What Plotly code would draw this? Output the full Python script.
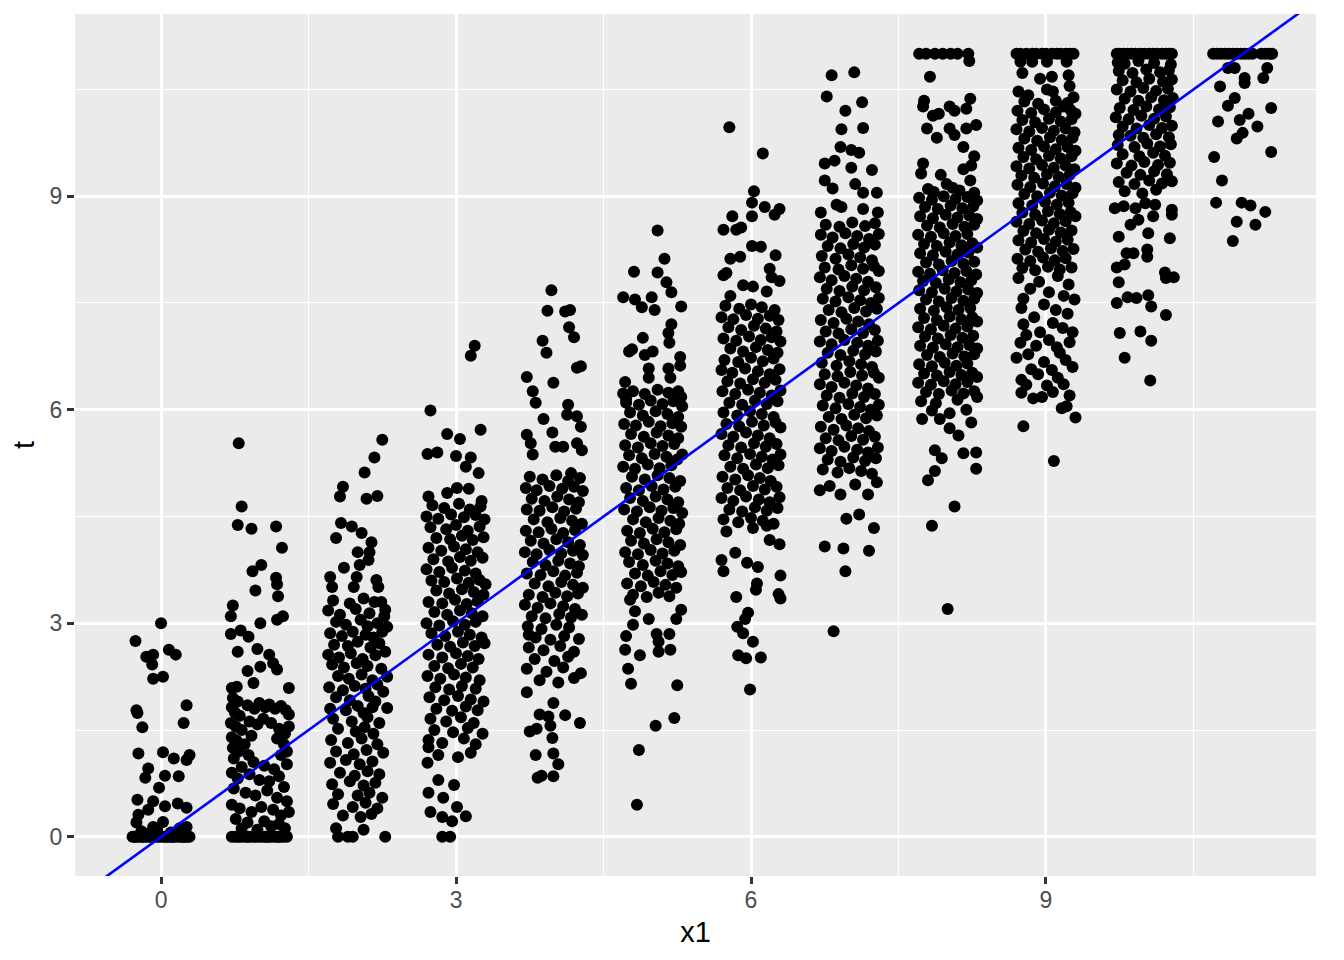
import plotly.graph_objects as go

# jittered points, one list per x1 value: (jitter offset, t)
col_0 = [
    (-0.29, 0), (-0.26, 0), (-0.24, 0), (-0.21, 0), (-0.19, 0), (-0.16, 0), (-0.13, 0), (-0.11, 0),
    (-0.08, 0), (-0.06, 0), (-0.03, 0), (-0.01, 0), (0.02, 0), (0.04, 0), (0.07, 0), (0.09, 0),
    (0.12, 0), (0.14, 0), (0.17, 0), (0.2, 0), (0.22, 0), (0.25, 0), (0.27, 0), (0.29, 0),
    (-0.18, 0), (0.05, 0), (0.11, 0), (-0.27, 0), (0.23, 0),
    (0.0, 3.0), (-0.26, 2.75), (-0.15, 2.53), (-0.08, 2.56), (-0.09, 2.42), (0.08, 2.63), (0.15, 2.56),
    (-0.08, 2.22), (0.02, 2.25), (0.26, 1.85), (-0.25, 1.78), (-0.24, 1.74), (0.23, 1.6), (-0.19, 1.54),
    (-0.23, 1.17), (0.02, 1.19), (0.13, 1.1), (0.29, 1.15), (0.26, 1.08), (-0.13, 0.96), (-0.16, 0.83),
    (0.04, 0.86), (0.18, 0.85), (-0.02, 0.69), (-0.24, 0.52), (-0.08, 0.5), (0.04, 0.43), (0.17, 0.47),
    (0.26, 0.41), (-0.23, 0.31), (-0.13, 0.38), (-0.25, 0.2), (0.02, 0.21), (-0.08, 0.14), (0.26, 0.14),
    (-0.2, 0.08), (0.1, 0.06), (-0.04, 0.1), (0.19, 0.12), (-0.12, 0.05),
]
col_1 = [
    (-0.28, 0), (-0.25, 0), (-0.22, 0), (-0.2, 0), (-0.17, 0), (-0.14, 0), (-0.11, 0), (-0.08, 0),
    (-0.05, 0), (-0.03, 0), (0.0, 0), (0.03, 0), (0.06, 0), (0.09, 0), (0.11, 0), (0.14, 0),
    (0.17, 0), (0.2, 0), (0.22, 0), (0.25, 0), (0.28, 0), (-0.12, 0), (0.07, 0), (0.19, 0),
    (-0.21, 5.53), (-0.18, 4.64), (-0.22, 4.38), (-0.08, 4.33), (0.17, 4.36), (0.23, 4.06), (0.02, 3.82),
    (-0.07, 3.73), (0.17, 3.64), (0.18, 3.55), (0.19, 3.38), (-0.04, 3.46), (-0.27, 3.25), (-0.29, 3.1),
    (0.01, 3.0), (0.18, 3.05), (0.24, 3.1), (-0.29, 2.85), (-0.19, 2.9), (-0.11, 2.81), (-0.02, 2.64),
    (-0.22, 2.6), (0.1, 2.56), (0.14, 2.44), (0.18, 2.35), (0.01, 2.39), (-0.12, 2.33), (-0.06, 2.16),
    (-0.28, 2.09), (-0.23, 2.11), (0.3, 2.09),
    (-0.27, 1.95), (-0.22, 1.9), (-0.28, 1.82), (-0.25, 1.75), (-0.2, 1.7), (-0.12, 1.85), (-0.05, 1.8),
    (0.0, 1.88), (0.06, 1.82), (0.1, 1.86), (0.16, 1.8), (0.22, 1.84), (0.27, 1.78), (0.3, 1.72),
    (-0.29, 1.6), (-0.24, 1.55), (-0.18, 1.5), (-0.1, 1.62), (-0.02, 1.58), (0.04, 1.66), (0.12, 1.6),
    (0.2, 1.52), (0.26, 1.45), (0.3, 1.55), (-0.28, 1.4), (-0.23, 1.35), (-0.27, 1.25), (-0.21, 1.2),
    (-0.26, 1.1), (-0.15, 1.3), (-0.08, 1.42), (-0.11, 1.15), (0.18, 1.38), (0.25, 1.3), (0.28, 1.2),
    (0.22, 1.15), (-0.06, 1.05), (0.05, 1.0), (-0.18, 0.98), (0.15, 0.95), (0.28, 1.02), (-0.28, 0.9),
    (-0.22, 0.82), (-0.1, 0.88), (0.0, 0.8), (0.1, 0.78), (0.2, 0.85), (0.25, 0.7), (-0.26, 0.68),
    (-0.14, 0.62), (-0.04, 0.58), (0.08, 0.65), (0.18, 0.55), (0.28, 0.5), (-0.28, 0.45), (-0.2, 0.4),
    (-0.08, 0.35), (0.02, 0.42), (0.14, 0.38), (0.22, 0.3), (0.3, 0.35), (-0.24, 0.25), (-0.12, 0.2),
    (0.05, 0.22), (0.12, 0.15), (0.2, 0.18), (0.26, 0.12), (-0.18, 0.12), (-0.02, 0.1),
]
col_2 = [
    (0.25, 5.58), (0.17, 5.33), (0.07, 5.12), (-0.15, 4.92), (-0.18, 4.78), (0.09, 4.75), (0.2, 4.79),
    (-0.17, 4.41), (-0.06, 4.36), (-0.22, 4.2), (0.04, 4.27), (0.14, 4.14), (0.12, 4.0), (0.0, 4.0),
    (0.11, 3.89), (0.02, 3.82), (-0.14, 3.78), (-0.28, 3.65), (-0.26, 3.51), (-0.01, 3.65), (-0.04, 3.51),
    (0.19, 3.61), (0.21, 3.51), (0.24, 3.3), (0.28, 3.19), (0.3, 1.81),
    (-0.25, 3.32), (-0.08, 3.28), (0.06, 3.35), (0.17, 3.3),
    (-0.3, 3.18), (-0.18, 3.12), (-0.02, 3.2), (0.12, 3.14), (0.27, 3.1),
    (-0.22, 3.02), (-0.12, 2.98), (0.03, 3.05), (0.1, 2.96), (0.2, 3.0), (0.3, 2.95),
    (-0.28, 2.86), (-0.16, 2.82), (-0.05, 2.88), (0.08, 2.84), (0.16, 2.8), (0.25, 2.88),
    (-0.24, 2.7), (-0.1, 2.68), (0.0, 2.74), (0.13, 2.66), (0.22, 2.72),
    (-0.3, 2.56), (-0.19, 2.52), (-0.07, 2.58), (0.05, 2.5), (0.18, 2.55), (0.28, 2.6),
    (-0.26, 2.42), (-0.14, 2.38), (-0.01, 2.44), (0.1, 2.4), (0.24, 2.36),
    (-0.2, 2.26), (-0.09, 2.22), (0.04, 2.28), (0.15, 2.2), (0.3, 2.25),
    (-0.29, 2.1), (-0.15, 2.06), (-0.03, 2.12), (0.08, 2.08), (0.2, 2.14), (0.26, 2.04),
    (-0.22, 1.96), (-0.08, 1.92), (0.11, 1.98), (0.18, 1.9),
    (-0.28, 1.8), (-0.12, 1.78), (0.0, 1.84), (0.06, 1.74), (0.15, 1.82),
    (-0.25, 1.66), (-0.06, 1.62), (0.1, 1.68), (0.22, 1.6),
    (-0.2, 1.52), (-0.02, 1.48), (0.07, 1.54), (0.16, 1.45),
    (-0.27, 1.36), (-0.1, 1.32), (0.04, 1.38), (0.2, 1.3),
    (-0.22, 1.2), (-0.04, 1.16), (0.09, 1.22), (0.26, 1.18),
    (-0.28, 1.04), (-0.12, 1.08), (0.02, 1.02), (0.15, 1.06),
    (-0.18, 0.9), (-0.03, 0.86), (0.1, 0.92), (0.22, 0.88),
    (-0.26, 0.74), (-0.08, 0.78), (0.06, 0.72), (0.18, 0.76),
    (-0.2, 0.6), (0.0, 0.58), (0.12, 0.62), (0.25, 0.55),
    (-0.25, 0.46), (-0.05, 0.42), (0.08, 0.48), (0.2, 0.4),
    (-0.15, 0.3), (0.03, 0.28), (0.14, 0.32),
    (-0.22, 0.12), (-0.2, 0), (-0.1, 0), (0.28, 0), (-0.05, 0), (0.06, 0.1),
]
col_3 = [
    (0.19, 6.9), (0.15, 6.76), (-0.26, 5.99), (-0.09, 5.66), (0.04, 5.59), (0.25, 5.72), (-0.29, 5.38),
    (-0.19, 5.4), (0.0, 5.35), (0.15, 5.33), (0.1, 5.2), (0.23, 5.11), (-0.28, 4.78), (-0.09, 4.83),
    (0.01, 4.9), (0.13, 4.89), (0.26, 4.72),
    (-0.28, 1.26), (-0.29, 1.04), (-0.18, 0.8), (-0.02, 0.73), (-0.28, 0.62), (-0.13, 0.55), (-0.26, 0.35),
    (-0.14, 0.28), (0.01, 0.42), (0.1, 0.29), (-0.04, 0.22), (-0.14, 0), (-0.06, 0),
    (-0.24, 4.66), (-0.12, 4.62), (0.03, 4.68), (0.14, 4.6), (0.25, 4.64),
    (-0.3, 4.5), (-0.18, 4.47), (-0.05, 4.53), (0.08, 4.49), (0.2, 4.52), (0.29, 4.46),
    (-0.26, 4.35), (-0.1, 4.32), (0.0, 4.38), (0.12, 4.3), (0.24, 4.36),
    (-0.2, 4.2), (-0.06, 4.18), (0.06, 4.23), (0.17, 4.17), (0.28, 4.21),
    (-0.28, 4.06), (-0.15, 4.02), (-0.02, 4.08), (0.1, 4.04), (0.22, 4.0),
    (-0.23, 3.9), (-0.08, 3.87), (0.04, 3.93), (0.15, 3.88), (0.27, 3.92),
    (-0.3, 3.76), (-0.17, 3.72), (-0.04, 3.78), (0.09, 3.74), (0.2, 3.7),
    (-0.25, 3.6), (-0.12, 3.58), (0.01, 3.63), (0.13, 3.57), (0.24, 3.61), (0.3, 3.55),
    (-0.2, 3.46), (-0.07, 3.42), (0.06, 3.48), (0.18, 3.44), (0.28, 3.4),
    (-0.28, 3.3), (-0.14, 3.28), (-0.01, 3.33), (0.11, 3.27), (0.22, 3.31),
    (-0.22, 3.16), (-0.09, 3.12), (0.04, 3.18), (0.16, 3.14), (0.27, 3.1),
    (-0.3, 3.0), (-0.17, 2.97), (-0.03, 3.03), (0.09, 2.98), (0.2, 3.02),
    (-0.25, 2.86), (-0.11, 2.82), (0.02, 2.88), (0.14, 2.84), (0.26, 2.8),
    (-0.19, 2.7), (-0.06, 2.67), (0.07, 2.73), (0.19, 2.68), (0.29, 2.72),
    (-0.28, 2.56), (-0.14, 2.52), (0.0, 2.58), (0.12, 2.54), (0.23, 2.5),
    (-0.22, 2.4), (-0.08, 2.37), (0.05, 2.43), (0.17, 2.38),
    (-0.29, 2.26), (-0.16, 2.22), (-0.02, 2.28), (0.1, 2.24), (0.24, 2.2),
    (-0.21, 2.1), (-0.07, 2.07), (0.06, 2.12), (0.2, 2.08),
    (-0.27, 1.96), (-0.12, 1.92), (0.02, 1.98), (0.15, 1.93), (0.28, 1.9),
    (-0.2, 1.8), (-0.04, 1.77), (0.1, 1.83), (0.22, 1.78),
    (-0.26, 1.66), (-0.1, 1.62), (0.05, 1.68), (0.18, 1.6),
    (-0.22, 1.5), (-0.03, 1.47), (0.12, 1.53), (0.27, 1.45),
    (-0.28, 1.36), (-0.14, 1.32), (0.08, 1.38), (0.2, 1.3),
    (-0.18, 1.15), (0.02, 1.12), (0.15, 1.18),
]
col_4 = [
    (-0.03, 7.68), (-0.07, 7.39), (0.11, 7.38), (0.16, 7.4), (0.15, 7.16), (0.2, 7.02), (-0.12, 6.97),
    (-0.08, 6.8), (0.27, 6.61), (0.23, 6.59), (-0.28, 6.46), (-0.22, 6.26), (-0.19, 6.1), (-0.01, 6.38),
    (0.14, 6.07), (0.13, 5.93), (0.23, 5.91), (0.27, 5.76), (-0.11, 5.87), (-0.28, 5.65), (-0.24, 5.53),
    (-0.22, 5.37), (-0.02, 5.68), (0.01, 5.48), (0.09, 5.48), (0.23, 5.53), (0.28, 5.43), (0.17, 5.11),
    (-0.26, 2.84), (-0.28, 2.03), (-0.01, 1.88), (-0.15, 1.72), (-0.06, 1.69), (0.11, 1.71), (0.26, 1.6),
    (-0.25, 1.48), (-0.18, 1.52), (-0.04, 1.56), (-0.02, 1.39), (-0.19, 1.15), (-0.01, 1.17), (0.04, 1.02),
    (-0.17, 0.83), (-0.13, 0.86), (-0.01, 0.85),
    (-0.25, 5.06), (-0.12, 5.02), (0.02, 5.08), (0.14, 5.0), (0.26, 5.04),
    (-0.29, 4.9), (-0.18, 4.87), (-0.05, 4.93), (0.08, 4.89), (0.2, 4.92), (0.29, 4.86),
    (-0.23, 4.75), (-0.1, 4.72), (0.03, 4.78), (0.15, 4.74), (0.25, 4.7),
    (-0.28, 4.6), (-0.15, 4.58), (-0.02, 4.63), (0.1, 4.57), (0.22, 4.61),
    (-0.21, 4.46), (-0.07, 4.42), (0.06, 4.48), (0.18, 4.44), (0.28, 4.4),
    (-0.29, 4.3), (-0.16, 4.28), (-0.03, 4.33), (0.09, 4.27), (0.21, 4.31),
    (-0.24, 4.16), (-0.11, 4.12), (0.02, 4.18), (0.14, 4.14), (0.26, 4.1),
    (-0.3, 4.0), (-0.18, 3.97), (-0.05, 4.03), (0.07, 3.98), (0.19, 4.02), (0.29, 3.96),
    (-0.22, 3.86), (-0.09, 3.82), (0.04, 3.88), (0.16, 3.84), (0.25, 3.8),
    (-0.28, 3.7), (-0.14, 3.68), (-0.01, 3.73), (0.11, 3.67), (0.23, 3.71),
    (-0.2, 3.56), (-0.06, 3.52), (0.07, 3.58), (0.19, 3.54), (0.29, 3.5),
    (-0.26, 3.4), (-0.12, 3.37), (0.01, 3.43), (0.13, 3.38), (0.24, 3.42),
    (-0.3, 3.26), (-0.17, 3.22), (-0.04, 3.28), (0.09, 3.24), (0.21, 3.2),
    (-0.23, 3.1), (-0.09, 3.07), (0.05, 3.13), (0.17, 3.08), (0.28, 3.12),
    (-0.27, 2.96), (-0.13, 2.92), (0.02, 2.98), (0.15, 2.94),
    (-0.19, 2.8), (-0.04, 2.77), (0.1, 2.82), (0.25, 2.78),
    (-0.26, 2.66), (-0.11, 2.62), (0.06, 2.68), (0.2, 2.6),
    (-0.2, 2.5), (0.0, 2.47), (0.14, 2.53),
    (-0.28, 2.36), (-0.08, 2.32), (0.09, 2.38), (0.27, 2.3),
    (-0.15, 2.2), (0.04, 2.17), (0.2, 2.23),
]
col_5 = [
    (0.05, 8.52), (0.12, 8.12), (-0.19, 7.94), (0.05, 7.93), (0.14, 7.79), (0.19, 7.65), (-0.3, 7.58),
    (-0.18, 7.55), (-0.01, 7.58), (-0.11, 7.44), (0.02, 7.4), (0.29, 7.45), (0.19, 7.2), (0.16, 7.08),
    (0.17, 6.94), (-0.1, 7.01), (-0.21, 6.85), (-0.24, 6.82), (-0.08, 6.77), (0.0, 6.82), (0.28, 6.74),
    (0.28, 6.62), (-0.04, 6.58), (-0.28, 6.39), (-0.3, 6.23), (-0.27, 6.15), (-0.04, 6.45), (0.16, 6.58),
    (0.18, 6.45), (0.26, 6.26), (0.29, 6.18),
    (-0.23, 3.33), (-0.18, 3.17), (-0.2, 2.98), (-0.27, 2.82), (-0.28, 2.63), (-0.13, 2.55), (-0.25, 2.36),
    (-0.22, 2.15), (-0.04, 3.06), (0.04, 2.85), (0.06, 2.74), (0.06, 2.6), (0.17, 2.85), (0.18, 2.63),
    (0.24, 3.06), (0.29, 3.19), (0.25, 2.13), (0.22, 1.67), (0.03, 1.56), (-0.14, 1.22), (-0.16, 0.45),
    (-0.2, 6.26), (-0.08, 6.22), (0.05, 6.28), (0.16, 6.24), (0.24, 6.2),
    (-0.27, 6.1), (-0.14, 6.07), (-0.02, 6.13), (0.1, 6.08), (0.21, 6.12), (0.3, 6.05),
    (-0.23, 5.96), (-0.1, 5.92), (0.03, 5.98), (0.15, 5.94), (0.26, 5.9),
    (-0.29, 5.8), (-0.17, 5.78), (-0.04, 5.83), (0.08, 5.77), (0.2, 5.81), (0.29, 5.76),
    (-0.22, 5.66), (-0.09, 5.62), (0.04, 5.68), (0.16, 5.64), (0.26, 5.6),
    (-0.28, 5.5), (-0.15, 5.47), (-0.02, 5.53), (0.1, 5.49), (0.22, 5.52),
    (-0.24, 5.36), (-0.11, 5.32), (0.02, 5.38), (0.14, 5.34), (0.25, 5.3), (0.3, 5.37),
    (-0.3, 5.2), (-0.18, 5.17), (-0.05, 5.23), (0.07, 5.18), (0.19, 5.22),
    (-0.21, 5.06), (-0.08, 5.02), (0.05, 5.08), (0.17, 5.04), (0.28, 5.0),
    (-0.27, 4.9), (-0.14, 4.87), (-0.01, 4.93), (0.11, 4.88), (0.23, 4.92),
    (-0.23, 4.76), (-0.1, 4.72), (0.03, 4.78), (0.15, 4.74), (0.26, 4.7),
    (-0.29, 4.6), (-0.16, 4.57), (-0.03, 4.63), (0.09, 4.58), (0.21, 4.62), (0.3, 4.55),
    (-0.2, 4.46), (-0.07, 4.42), (0.06, 4.48), (0.18, 4.44), (0.27, 4.4),
    (-0.26, 4.3), (-0.13, 4.27), (0.0, 4.33), (0.12, 4.28), (0.24, 4.32),
    (-0.22, 4.16), (-0.09, 4.12), (0.04, 4.18), (0.16, 4.14), (0.28, 4.1),
    (-0.28, 4.0), (-0.15, 3.97), (-0.02, 4.03), (0.1, 3.98), (0.22, 4.02),
    (-0.24, 3.86), (-0.1, 3.82), (0.03, 3.88), (0.15, 3.84), (0.26, 3.8),
    (-0.18, 3.7), (-0.05, 3.67), (0.08, 3.73), (0.2, 3.68), (0.29, 3.72),
    (-0.26, 3.56), (-0.12, 3.52), (0.01, 3.58), (0.13, 3.54), (0.24, 3.5),
    (-0.2, 3.4), (-0.06, 3.37), (0.06, 3.43), (0.17, 3.38),
]
col_6 = [
    (-0.22, 9.97), (0.12, 9.6), (0.03, 9.07), (0.01, 8.91), (0.14, 8.85), (0.24, 8.74), (0.29, 8.82),
    (-0.19, 8.72), (0.01, 8.72), (-0.28, 8.53), (-0.15, 8.53), (-0.1, 8.56), (0.01, 8.3), (0.1, 8.29),
    (0.25, 8.17), (-0.21, 8.12), (-0.11, 8.15), (-0.28, 7.89), (-0.25, 7.92), (0.19, 7.98), (0.21, 7.86),
    (0.29, 7.81), (-0.08, 7.75), (0.02, 7.73), (-0.21, 7.6), (0.16, 7.66),
    (0.3, 3.67), (0.06, 3.56), (0.05, 3.47), (-0.15, 3.37), (0.28, 3.41), (0.3, 3.35), (-0.03, 3.15),
    (-0.06, 3.06), (-0.14, 2.95), (-0.08, 2.86), (0.02, 2.74), (-0.13, 2.55), (-0.05, 2.51), (0.1, 2.52),
    (-0.01, 2.07), (-0.3, 3.89), (-0.28, 3.73), (-0.16, 3.99), (-0.04, 3.85), (0.07, 3.79), (0.19, 4.17),
    (0.29, 4.11), (-0.25, 4.29), (0.02, 4.34), (0.16, 4.37),
    (-0.26, 7.46), (-0.12, 7.42), (0.0, 7.48), (0.11, 7.44), (0.24, 7.4),
    (-0.3, 7.3), (-0.18, 7.27), (-0.05, 7.33), (0.07, 7.28), (0.19, 7.32), (0.28, 7.26),
    (-0.23, 7.16), (-0.1, 7.12), (0.03, 7.18), (0.15, 7.14), (0.26, 7.1),
    (-0.28, 7.0), (-0.15, 6.97), (-0.02, 7.03), (0.1, 6.98), (0.21, 7.02), (0.3, 6.96),
    (-0.21, 6.86), (-0.08, 6.82), (0.05, 6.88), (0.17, 6.84), (0.27, 6.8),
    (-0.27, 6.7), (-0.13, 6.67), (0.0, 6.73), (0.12, 6.68), (0.23, 6.72),
    (-0.3, 6.56), (-0.19, 6.52), (-0.06, 6.58), (0.07, 6.54), (0.19, 6.5), (0.29, 6.57),
    (-0.24, 6.4), (-0.11, 6.37), (0.02, 6.43), (0.14, 6.38), (0.25, 6.42),
    (-0.29, 6.26), (-0.16, 6.22), (-0.03, 6.28), (0.09, 6.24), (0.21, 6.2), (0.3, 6.27),
    (-0.22, 6.1), (-0.09, 6.07), (0.04, 6.13), (0.16, 6.08), (0.27, 6.12),
    (-0.28, 5.96), (-0.14, 5.92), (-0.01, 5.98), (0.11, 5.94), (0.23, 5.9),
    (-0.25, 5.8), (-0.12, 5.77), (0.01, 5.83), (0.13, 5.78), (0.25, 5.82), (0.3, 5.75),
    (-0.3, 5.66), (-0.18, 5.62), (-0.05, 5.68), (0.07, 5.64), (0.19, 5.6),
    (-0.23, 5.5), (-0.1, 5.47), (0.03, 5.53), (0.15, 5.48), (0.26, 5.52),
    (-0.27, 5.36), (-0.14, 5.32), (-0.01, 5.38), (0.11, 5.34), (0.22, 5.3), (0.3, 5.37),
    (-0.21, 5.2), (-0.08, 5.17), (0.05, 5.23), (0.17, 5.18), (0.28, 5.22),
    (-0.29, 5.06), (-0.16, 5.02), (-0.03, 5.08), (0.09, 5.04), (0.2, 5.0),
    (-0.24, 4.9), (-0.11, 4.87), (0.02, 4.93), (0.14, 4.88), (0.26, 4.92),
    (-0.3, 4.76), (-0.18, 4.72), (-0.05, 4.78), (0.08, 4.74), (0.19, 4.7), (0.29, 4.77),
    (-0.22, 4.6), (-0.09, 4.57), (0.04, 4.63), (0.16, 4.58), (0.27, 4.62),
    (-0.28, 4.46), (-0.13, 4.42), (0.0, 4.48), (0.12, 4.44), (0.23, 4.4),
]
col_7 = [
    (-0.18, 10.7), (0.05, 10.74), (-0.23, 10.4), (0.13, 10.32), (-0.04, 10.2), (-0.08, 9.94), (0.14, 9.96),
    (-0.09, 9.69), (0.02, 9.65), (0.1, 9.61), (-0.25, 9.46), (-0.15, 9.5), (0.02, 9.4), (0.23, 9.37),
    (-0.25, 9.22), (-0.17, 9.11), (0.06, 9.17), (0.14, 9.05), (0.28, 9.05), (-0.29, 8.77), (-0.13, 8.88),
    (-0.08, 8.85), (0.14, 8.82), (0.29, 8.77),
    (-0.3, 4.87), (-0.2, 4.93), (-0.09, 4.81), (0.06, 4.95), (0.19, 4.81), (0.28, 4.98), (-0.03, 4.47),
    (0.1, 4.53), (0.25, 4.34), (-0.25, 4.08), (-0.06, 4.05), (0.2, 4.02), (-0.04, 3.73), (-0.16, 2.89),
    (-0.24, 8.6), (-0.1, 8.57), (0.03, 8.63), (0.16, 8.58), (0.26, 8.62),
    (-0.29, 8.46), (-0.17, 8.42), (-0.04, 8.48), (0.08, 8.44), (0.2, 8.4), (0.3, 8.47),
    (-0.22, 8.3), (-0.09, 8.27), (0.04, 8.33), (0.15, 8.28), (0.26, 8.32),
    (-0.28, 8.16), (-0.14, 8.12), (-0.01, 8.18), (0.11, 8.14), (0.23, 8.1),
    (-0.25, 8.0), (-0.11, 7.97), (0.02, 8.03), (0.14, 7.98), (0.25, 8.02), (0.3, 7.95),
    (-0.3, 7.86), (-0.18, 7.82), (-0.05, 7.88), (0.07, 7.84), (0.19, 7.8),
    (-0.23, 7.7), (-0.1, 7.67), (0.03, 7.73), (0.15, 7.68), (0.27, 7.72),
    (-0.27, 7.56), (-0.14, 7.52), (-0.01, 7.58), (0.11, 7.54), (0.22, 7.5), (0.3, 7.57),
    (-0.21, 7.4), (-0.08, 7.37), (0.05, 7.43), (0.17, 7.38), (0.28, 7.42),
    (-0.29, 7.26), (-0.16, 7.22), (-0.03, 7.28), (0.09, 7.24), (0.2, 7.2),
    (-0.24, 7.1), (-0.11, 7.07), (0.02, 7.13), (0.14, 7.08), (0.26, 7.12),
    (-0.3, 6.96), (-0.18, 6.92), (-0.05, 6.98), (0.08, 6.94), (0.19, 6.9), (0.29, 6.97),
    (-0.22, 6.8), (-0.09, 6.77), (0.04, 6.83), (0.16, 6.78), (0.27, 6.82),
    (-0.28, 6.66), (-0.13, 6.62), (0.0, 6.68), (0.12, 6.64), (0.23, 6.6),
    (-0.25, 6.5), (-0.12, 6.47), (0.01, 6.53), (0.13, 6.48), (0.25, 6.52), (0.3, 6.45),
    (-0.3, 6.36), (-0.18, 6.32), (-0.05, 6.38), (0.07, 6.34), (0.19, 6.3),
    (-0.23, 6.2), (-0.1, 6.17), (0.03, 6.23), (0.15, 6.18), (0.26, 6.22),
    (-0.27, 6.06), (-0.14, 6.02), (-0.01, 6.08), (0.11, 6.04), (0.22, 6.0), (0.3, 6.07),
    (-0.21, 5.9), (-0.08, 5.87), (0.05, 5.93), (0.17, 5.88), (0.28, 5.92),
    (-0.29, 5.76), (-0.16, 5.72), (-0.03, 5.78), (0.09, 5.74), (0.2, 5.7),
    (-0.24, 5.6), (-0.11, 5.57), (0.02, 5.63), (0.14, 5.58), (0.26, 5.62),
    (-0.3, 5.46), (-0.18, 5.42), (-0.05, 5.48), (0.08, 5.44), (0.19, 5.4), (0.29, 5.47),
    (-0.22, 5.3), (-0.09, 5.27), (0.04, 5.33), (0.16, 5.28), (0.27, 5.32),
    (-0.27, 5.16), (-0.12, 5.12), (0.0, 5.18), (0.12, 5.14), (0.23, 5.1),
]
col_8 = [
    (-0.29, 11.0), (-0.22, 11.0), (-0.13, 11.0), (-0.05, 11.0), (0.03, 11.0), (0.1, 11.0), (0.21, 11.0),
    (0.22, 10.9), (-0.18, 10.68), (0.23, 10.37), (-0.24, 10.34), (-0.25, 10.26), (0.02, 10.26), (0.07, 10.2),
    (0.19, 10.23), (-0.15, 10.13), (-0.09, 10.16), (-0.21, 9.95), (-0.11, 9.82), (0.02, 9.95), (0.07, 9.86),
    (0.19, 9.95), (0.29, 10.0), (0.16, 9.69), (0.27, 9.56), (0.24, 9.43), (-0.25, 9.46), (-0.27, 9.32),
    (-0.07, 9.3), (-0.01, 9.17), (0.16, 9.38), (0.23, 9.22),
    (-0.26, 5.87), (-0.08, 5.87), (0.02, 5.95), (0.19, 6.0), (0.24, 5.82), (0.02, 5.74), (0.11, 5.64),
    (-0.16, 5.99), (0.3, 6.18), (-0.13, 5.43), (-0.06, 5.32), (0.16, 5.39), (0.29, 5.4), (0.29, 5.17),
    (-0.13, 5.14), (-0.2, 5.01), (0.07, 4.64), (-0.16, 4.37), (0.0, 3.2),
    (-0.2, 9.1), (-0.14, 9.06), (0.05, 9.12), (0.12, 9.08), (0.27, 9.05),
    (-0.29, 8.98), (-0.16, 8.95), (-0.04, 9.0), (0.08, 8.96), (0.2, 8.99), (0.3, 8.94),
    (-0.23, 8.85), (-0.1, 8.82), (0.03, 8.87), (0.15, 8.83), (0.26, 8.86),
    (-0.28, 8.72), (-0.15, 8.69), (-0.02, 8.74), (0.1, 8.7), (0.22, 8.73), (0.3, 8.68),
    (-0.21, 8.59), (-0.08, 8.56), (0.05, 8.61), (0.17, 8.57), (0.27, 8.6),
    (-0.3, 8.46), (-0.17, 8.43), (-0.04, 8.48), (0.08, 8.44), (0.2, 8.47),
    (-0.24, 8.33), (-0.11, 8.3), (0.02, 8.35), (0.14, 8.31), (0.25, 8.34), (0.3, 8.28),
    (-0.28, 8.2), (-0.15, 8.17), (-0.02, 8.22), (0.1, 8.18), (0.21, 8.21),
    (-0.22, 8.07), (-0.09, 8.04), (0.04, 8.09), (0.16, 8.05), (0.27, 8.08),
    (-0.3, 7.94), (-0.18, 7.91), (-0.05, 7.96), (0.07, 7.92), (0.19, 7.95), (0.29, 7.9),
    (-0.25, 7.81), (-0.12, 7.78), (0.01, 7.83), (0.13, 7.79), (0.24, 7.82),
    (-0.29, 7.68), (-0.16, 7.65), (-0.03, 7.7), (0.09, 7.66), (0.21, 7.69), (0.3, 7.64),
    (-0.22, 7.55), (-0.09, 7.52), (0.04, 7.57), (0.16, 7.53), (0.27, 7.56),
    (-0.28, 7.42), (-0.14, 7.39), (-0.01, 7.44), (0.11, 7.4), (0.23, 7.43),
    (-0.24, 7.29), (-0.11, 7.26), (0.02, 7.31), (0.14, 7.27), (0.25, 7.3), (0.3, 7.24),
    (-0.3, 7.16), (-0.17, 7.13), (-0.04, 7.18), (0.08, 7.14), (0.2, 7.17),
    (-0.23, 7.03), (-0.1, 7.0), (0.03, 7.05), (0.15, 7.01), (0.26, 7.04),
    (-0.28, 6.9), (-0.15, 6.87), (-0.02, 6.92), (0.1, 6.88), (0.22, 6.91), (0.3, 6.86),
    (-0.21, 6.77), (-0.08, 6.74), (0.05, 6.79), (0.17, 6.75), (0.27, 6.78),
    (-0.29, 6.64), (-0.16, 6.61), (-0.03, 6.66), (0.09, 6.62), (0.2, 6.65),
    (-0.24, 6.51), (-0.11, 6.48), (0.02, 6.53), (0.14, 6.49), (0.25, 6.52), (0.3, 6.46),
    (-0.3, 6.38), (-0.17, 6.35), (-0.04, 6.4), (0.08, 6.36), (0.2, 6.39),
    (-0.22, 6.25), (-0.09, 6.22), (0.04, 6.27), (0.16, 6.23), (0.27, 6.26),
    (-0.27, 6.12), (-0.12, 6.09), (0.1, 6.14),
]
col_9 = [
    (-0.3, 11.0), (-0.26, 11.0), (-0.2, 11.0), (-0.14, 11.0), (-0.1, 11.0), (-0.04, 11.0), (0.0, 11.0),
    (0.06, 11.0), (0.11, 11.0), (0.15, 11.0), (0.2, 11.0), (0.24, 11.0), (0.28, 11.0),
    (-0.26, 10.89), (-0.14, 10.89), (0.01, 10.89), (0.21, 10.89),
    (-0.24, 10.73), (-0.06, 10.65), (0.06, 10.68), (0.23, 10.7), (0.24, 10.55), (-0.28, 10.47), (-0.18, 10.42),
    (0.01, 10.5), (0.07, 10.47), (0.28, 10.39), (0.18, 10.26),
    (-0.23, 7.56), (-0.25, 7.43), (-0.23, 7.2), (-0.26, 6.94), (-0.3, 6.73), (-0.18, 6.78), (-0.15, 6.57),
    (-0.25, 6.42), (-0.25, 6.24), (-0.13, 6.16), (-0.04, 6.18), (-0.06, 7.09), (-0.02, 6.67), (0.06, 6.56),
    (0.01, 6.34), (0.27, 7.09), (0.18, 6.36), (0.16, 6.02), (0.21, 6.05), (0.3, 5.89), (-0.23, 5.77),
    (0.08, 5.28), (0.11, 6.88), (0.14, 6.8),
    (-0.22, 10.33), (-0.08, 10.3), (0.1, 10.34), (0.22, 10.31),
    (-0.29, 10.2), (-0.15, 10.17), (-0.02, 10.22), (0.1, 10.18), (0.25, 10.21), (0.3, 10.16),
    (-0.24, 10.07), (-0.11, 10.04), (0.03, 10.09), (0.15, 10.05), (0.26, 10.08),
    (-0.3, 9.94), (-0.17, 9.91), (-0.04, 9.96), (0.08, 9.92), (0.2, 9.95), (0.29, 9.9),
    (-0.22, 9.81), (-0.09, 9.78), (0.04, 9.83), (0.16, 9.79), (0.27, 9.82),
    (-0.28, 9.68), (-0.15, 9.65), (-0.02, 9.7), (0.1, 9.66), (0.22, 9.69), (0.3, 9.64),
    (-0.23, 9.55), (-0.1, 9.52), (0.03, 9.57), (0.15, 9.53), (0.26, 9.56),
    (-0.3, 9.42), (-0.17, 9.39), (-0.04, 9.44), (0.08, 9.4), (0.2, 9.43), (0.29, 9.38),
    (-0.25, 9.29), (-0.12, 9.26), (0.01, 9.31), (0.13, 9.27), (0.24, 9.3),
    (-0.29, 9.16), (-0.16, 9.13), (-0.03, 9.18), (0.09, 9.14), (0.21, 9.17), (0.3, 9.12),
    (-0.22, 9.03), (-0.09, 9.0), (0.04, 9.05), (0.16, 9.01), (0.27, 9.04),
    (-0.28, 8.9), (-0.14, 8.87), (-0.01, 8.92), (0.11, 8.88), (0.23, 8.91),
    (-0.24, 8.77), (-0.11, 8.74), (0.02, 8.79), (0.14, 8.75), (0.25, 8.78), (0.3, 8.72),
    (-0.3, 8.64), (-0.17, 8.61), (-0.04, 8.66), (0.08, 8.62), (0.2, 8.65),
    (-0.23, 8.51), (-0.1, 8.48), (0.03, 8.53), (0.15, 8.49), (0.26, 8.52),
    (-0.28, 8.38), (-0.15, 8.35), (-0.02, 8.4), (0.1, 8.36), (0.22, 8.39),
    (-0.21, 8.25), (-0.08, 8.22), (0.05, 8.27), (0.17, 8.23), (0.28, 8.26),
    (-0.29, 8.12), (-0.16, 8.09), (-0.03, 8.14), (0.09, 8.1), (0.2, 8.13),
    (-0.24, 7.99), (-0.11, 7.96), (0.02, 8.01), (0.14, 7.97), (0.26, 8.0),
    (-0.28, 7.85), (-0.07, 7.8), (0.12, 7.88), (0.23, 7.76), (-0.16, 7.7), (0.03, 7.65), (0.18, 7.6),
    (0.29, 7.55), (-0.02, 7.48), (0.1, 7.4), (0.22, 7.35), (-0.12, 7.3), (0.07, 7.22), (0.17, 7.15),
    (-0.2, 7.05), (0.03, 6.98), (0.24, 6.95), (-0.1, 6.9), (0.2, 6.7), (-0.08, 6.5), (0.12, 6.45),
    (0.27, 6.6), (-0.2, 6.35), (0.07, 6.25), (0.24, 6.2),
]
col_10 = [
    (-0.28, 11.0), (-0.25, 11.0), (-0.21, 11.0), (-0.17, 11.0), (-0.13, 11.0), (-0.09, 11.0), (-0.04, 11.0),
    (0.0, 11.0), (0.05, 11.0), (0.09, 11.0), (0.13, 11.0), (0.18, 11.0), (0.22, 11.0), (0.25, 11.0), (0.28, 11.0),
    (-0.26, 9.86), (-0.3, 8.83), (-0.21, 8.86), (-0.09, 8.83), (0.01, 8.9), (0.11, 8.88), (0.28, 8.81),
    (0.28, 8.74), (-0.14, 8.6), (-0.06, 8.67), (0.09, 8.72), (-0.26, 8.43), (0.04, 8.48), (0.26, 8.41),
    (-0.18, 8.2), (-0.11, 8.2), (0.03, 8.25), (0.03, 8.15), (-0.28, 8.0), (-0.2, 8.04), (0.21, 7.93),
    (0.3, 7.86), (0.22, 7.85), (-0.26, 7.79), (-0.28, 7.5), (-0.17, 7.58), (-0.08, 7.57), (0.04, 7.61),
    (0.07, 7.45), (0.22, 7.33), (-0.25, 7.08), (-0.04, 7.1), (0.07, 6.97), (-0.2, 6.73), (0.06, 6.41),
    (-0.27, 10.88), (-0.2, 10.86), (-0.06, 10.9), (0.1, 10.87), (0.27, 10.85),
    (-0.26, 10.76), (-0.12, 10.73), (0.02, 10.78), (0.16, 10.74), (0.25, 10.77),
    (-0.22, 10.63), (-0.08, 10.6), (0.05, 10.65), (0.19, 10.61), (0.28, 10.64),
    (-0.28, 10.5), (-0.14, 10.47), (-0.01, 10.52), (0.12, 10.48), (0.24, 10.51),
    (-0.2, 10.37), (-0.06, 10.34), (0.07, 10.39), (0.2, 10.35), (0.29, 10.38),
    (-0.25, 10.24), (-0.11, 10.21), (0.02, 10.26), (0.15, 10.22), (0.26, 10.25),
    (-0.29, 10.11), (-0.16, 10.08), (-0.03, 10.13), (0.1, 10.09), (0.22, 10.12),
    (-0.22, 9.98), (-0.08, 9.95), (0.05, 10.0), (0.18, 9.96), (0.28, 9.99),
    (-0.14, 9.85), (-0.01, 9.82), (0.12, 9.87), (0.25, 9.83),
    (-0.27, 9.72), (-0.1, 9.69), (0.03, 9.74), (0.16, 9.7), (0.27, 9.73),
    (-0.22, 9.59), (-0.05, 9.56), (0.09, 9.61), (0.21, 9.57),
    (-0.28, 9.46), (-0.13, 9.43), (0.0, 9.48), (0.14, 9.44), (0.26, 9.47),
    (-0.18, 9.33), (-0.04, 9.3), (0.1, 9.35), (0.23, 9.31),
    (-0.26, 9.2), (-0.1, 9.17), (0.05, 9.22), (0.18, 9.18), (0.28, 9.21),
    (-0.2, 9.07), (-0.02, 9.04), (0.12, 9.09),
]
col_11 = [
    (-0.3, 11.0), (-0.26, 11.0), (-0.22, 11.0), (-0.18, 11.0), (-0.14, 11.0), (-0.1, 11.0), (-0.06, 11.0),
    (-0.02, 11.0), (0.02, 11.0), (0.06, 11.0), (0.1, 11.0), (0.19, 11.0), (0.23, 11.0), (0.27, 11.0), (0.3, 11.0),
    (-0.15, 10.8), (-0.08, 10.8), (0.02, 10.66), (0.02, 10.59), (0.21, 10.66), (0.25, 10.8), (-0.23, 10.54),
    (-0.08, 10.38), (-0.15, 10.27), (0.29, 10.24), (0.06, 10.16), (-0.03, 10.07), (-0.25, 10.05),
    (0.15, 9.98), (0.0, 9.89), (-0.06, 9.81), (0.29, 9.62), (-0.29, 9.55), (-0.21, 9.22), (-0.27, 8.91),
    (-0.01, 8.91), (0.08, 8.87), (0.23, 8.78), (-0.06, 8.64), (0.13, 8.6), (-0.1, 8.37),
]

x1_levels = [0, 1, 2, 3, 4, 5, 6, 7, 8, 9, 10, 11]
columns = [col_0, col_1, col_2, col_3, col_4, col_5, col_6, col_7, col_8, col_9, col_10, col_11]

# fitted line t = intercept + slope * x1
slope = 1.0
intercept = 0.0

x_range = [-0.875, 11.746]
y_range = [-0.55, 11.56]

xs, ts = [], []
for lvl, pts in zip(x1_levels, columns):
    for dx, t in pts:
        xs.append(lvl + dx)
        ts.append(t)

font_fam = "Liberation Sans, Arial, sans-serif"

# --- points ---
trace_pts = go.Scatter(
    x=xs, y=ts, mode="markers",
    marker=dict(color="black", size=12, line=dict(width=0)),
    showlegend=False, hoverinfo="skip",
)

# --- fitted line, drawn across the whole panel ---
trace_line = go.Scatter(
    x=x_range, y=[intercept + slope * v for v in x_range],
    mode="lines", line=dict(color="#0000FF", width=2.6),
    showlegend=False, hoverinfo="skip",
)

axis_common = dict(
    showgrid=True, gridcolor="white", gridwidth=2.6,
    zeroline=False, showline=False,
    ticks="outside", ticklen=7, tickwidth=2.6, tickcolor="#333333",
    tickfont=dict(family=font_fam, size=23, color="#4D4D4D"),
    tickvals=[0, 3, 6, 9],
    minor=dict(tickvals=[1.5, 4.5, 7.5, 10.5], showgrid=True, gridcolor="white", gridwidth=1.3),
)

fig = go.Figure(data=[trace_pts, trace_line])
# page body has an 8px margin, so the figure is shrunk by that much
fig.update_layout(
    width=1336, height=952,
    margin=dict(l=67, r=28, t=6, b=84),
    paper_bgcolor="white", plot_bgcolor="#EBEBEB",
    font=dict(family=font_fam),
    xaxis=dict(axis_common, range=x_range, ticklabelstandoff=-4,
               title=dict(text="x1", font=dict(family=font_fam, size=29, color="black"), standoff=10)),
    yaxis=dict(axis_common, range=y_range,
               title=dict(text="t", font=dict(family=font_fam, size=29, color="black"), standoff=12)),
)

fig.write_html("out.html")
